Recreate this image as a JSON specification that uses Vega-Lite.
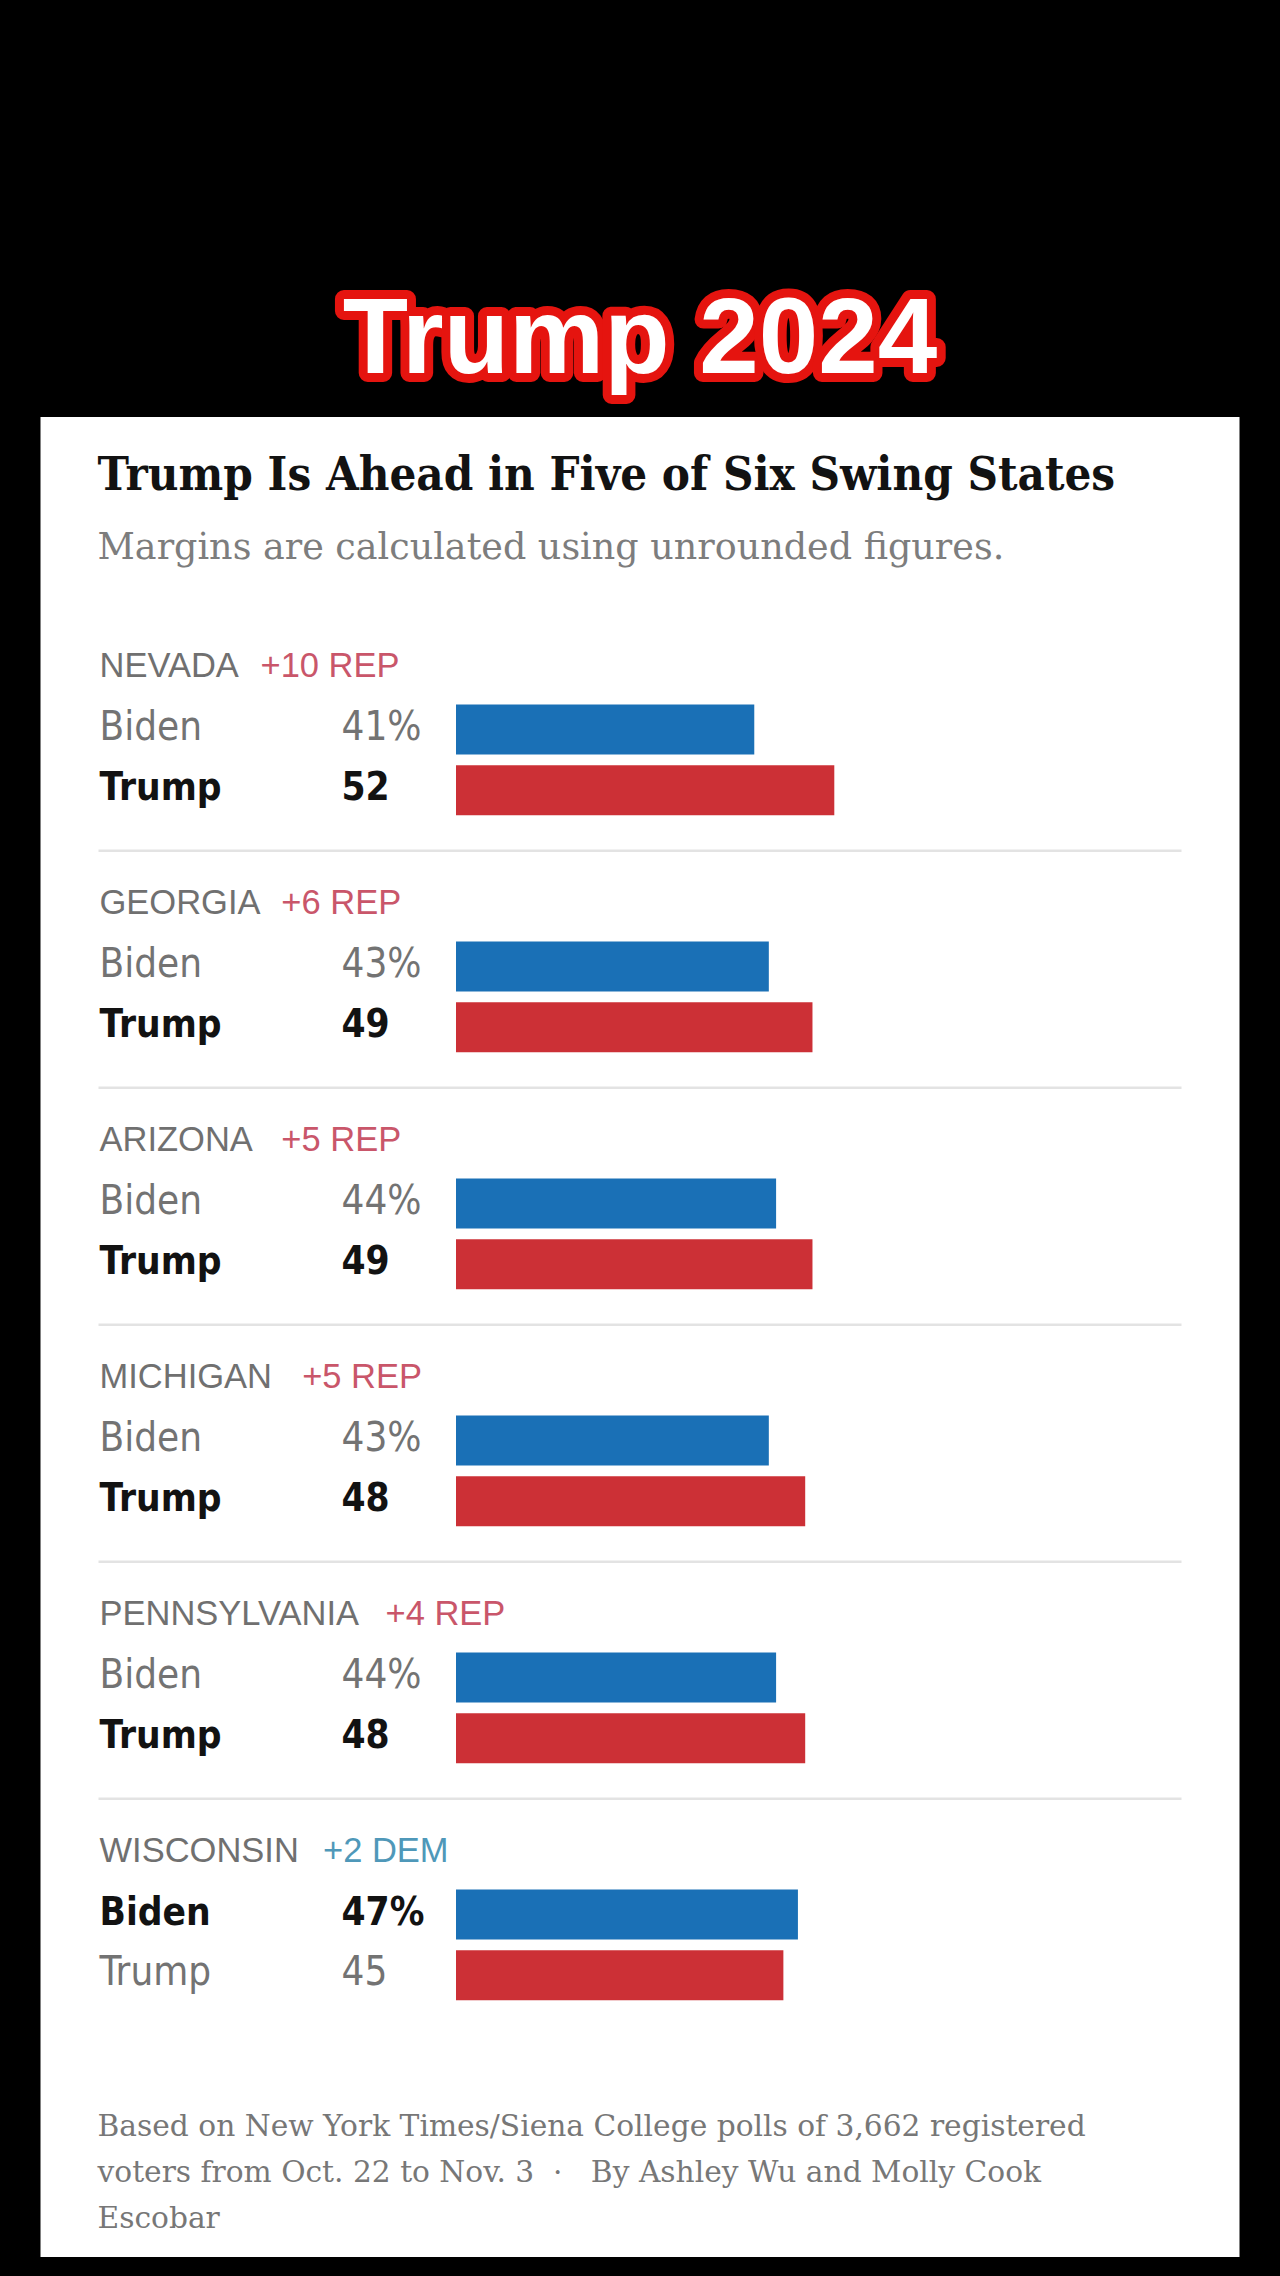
{
  "$schema": "https://vega.github.io/schema/vega-lite/v6.json",
  "background": "#000000",
  "padding": {"top": 264, "bottom": 19, "left": 0, "right": 0},
  "spacing": 0,
  "center": true,
  "config": {"view": {"stroke": null, "fill": "#ffffff"}, "concat": {"spacing": 0}, "facet": {"spacing": 0}},
  "vconcat": [
    {
      "width": 1280,
      "height": 153,
      "view": {"fill": "#000000", "stroke": null},
      "data": {"values": [{"headline": "Trump 2024"}]},
      "layer": [
        {
          "mark": {"type": "text", "font": "Liberation Sans", "fontWeight": "bold", "fontSize": 107, "align": "center", "baseline": "middle", "fill": "#e5140f", "stroke": "#e5140f", "strokeWidth": 18, "strokeJoin": "round"},
          "encoding": {"text": {"field": "headline"}}
        },
        {
          "mark": {"type": "text", "font": "Liberation Sans", "fontWeight": "bold", "fontSize": 107, "align": "center", "baseline": "middle", "fill": "#ffffff"},
          "encoding": {"text": {"field": "headline"}}
        }
      ]
    },
    {
      "width": 1199,
      "height": 198,
      "data": {"values": [
        {"kind": "title", "line": "Trump Is Ahead in Five of Six Swing States"},
        {"kind": "subtitle", "line": "Margins are calculated using unrounded figures."}
      ]},
      "layer": [
        {
          "transform": [{"filter": "datum.kind === 'title'"}],
          "mark": {"type": "text", "align": "left", "baseline": "alphabetic", "font": "DejaVu Serif Condensed, Liberation Serif", "fontWeight": "bold", "fontSize": 47, "fill": "#121212"},
          "encoding": {
            "text": {"field": "line"},
            "x": {"datum": 0, "type": "quantitative", "scale": {"domain": [0, 1], "range": [57, 1141]}, "axis": null},
            "y": {"field": "kind", "type": "nominal", "scale": {"type": "point", "domain": ["title", "subtitle"], "range": [73, 142], "padding": 0}, "axis": null}
          }
        },
        {
          "transform": [{"filter": "datum.kind === 'subtitle'"}],
          "mark": {"type": "text", "align": "left", "baseline": "alphabetic", "font": "DejaVu Serif", "fontSize": 36.5, "fill": "#7d7d7d"},
          "encoding": {
            "text": {"field": "line"},
            "x": {"datum": 0, "type": "quantitative", "scale": {"domain": [0, 1], "range": [57, 1141]}, "axis": null},
            "y": {"field": "kind", "type": "nominal", "scale": {"type": "point", "domain": ["title", "subtitle"], "range": [73, 142], "padding": 0}, "axis": null}
          }
        }
      ]
    },
    {
      "data": {"values": [
        {"state": "NEVADA", "margin": "+10 REP", "candidate": "Biden", "pct": 41},
        {"state": "NEVADA", "margin": "+10 REP", "candidate": "Trump", "pct": 52},
        {"state": "GEORGIA", "margin": "+6 REP", "candidate": "Biden", "pct": 43},
        {"state": "GEORGIA", "margin": "+6 REP", "candidate": "Trump", "pct": 49},
        {"state": "ARIZONA", "margin": "+5 REP", "candidate": "Biden", "pct": 44},
        {"state": "ARIZONA", "margin": "+5 REP", "candidate": "Trump", "pct": 49},
        {"state": "MICHIGAN", "margin": "+5 REP", "candidate": "Biden", "pct": 43},
        {"state": "MICHIGAN", "margin": "+5 REP", "candidate": "Trump", "pct": 48},
        {"state": "PENNSYLVANIA", "margin": "+4 REP", "candidate": "Biden", "pct": 44},
        {"state": "PENNSYLVANIA", "margin": "+4 REP", "candidate": "Trump", "pct": 48},
        {"state": "WISCONSIN", "margin": "+2 DEM", "candidate": "Biden", "pct": 47},
        {"state": "WISCONSIN", "margin": "+2 DEM", "candidate": "Trump", "pct": 45}
      ]},
      "transform": [
        {"joinaggregate": [{"op": "max", "field": "pct", "as": "lead"}], "groupby": ["state"]},
        {"calculate": "datum.candidate === 'Biden' ? datum.pct + '%' : '' + datum.pct", "as": "pctLabel"},
        {"calculate": "length(datum.state)", "as": "nameLength"}
      ],
      "facet": {
        "row": {"field": "state", "type": "nominal", "sort": ["NEVADA", "GEORGIA", "ARIZONA", "MICHIGAN", "PENNSYLVANIA", "WISCONSIN"], "header": {"title": null, "labels": false}}
      },
      "spacing": 0,
      "spec": {
        "width": 1199,
        "height": 237,
        "layer": [
          {
            "transform": [{"filter": "datum.candidate === 'Biden' && datum.state !== 'WISCONSIN'"}],
            "mark": {"type": "rule", "stroke": "#e3e3e3", "strokeWidth": 2.5},
            "encoding": {
              "x": {"datum": 0, "type": "quantitative", "scale": {"domain": [0, 1], "range": [58, 1141]}, "axis": null},
              "x2": {"datum": 1},
              "y": {"datum": "rule", "type": "nominal", "scale": {"type": "point", "domain": ["header", "Biden", "Trump", "rule"], "range": [54, 235.7], "padding": 0}, "axis": null}
            }
          },
          {
            "transform": [{"filter": "datum.candidate === 'Biden'"}],
            "mark": {"type": "text", "align": "left", "baseline": "alphabetic", "dy": 8, "font": "Liberation Sans", "fontSize": 34.5, "fill": "#707070"},
            "encoding": {
              "text": {"field": "state"},
              "x": {"datum": 0, "type": "quantitative", "scale": {"domain": [0, 1], "range": [59, 1141]}, "axis": null},
              "y": {"datum": "header", "type": "nominal", "scale": {"type": "point", "domain": ["header", "Biden", "Trump", "rule"], "range": [54, 235.7], "padding": 0}, "axis": null}
            }
          },
          {
            "transform": [{"filter": "datum.candidate === 'Biden'"}],
            "mark": {"type": "text", "align": "left", "baseline": "alphabetic", "dy": 8, "font": "Liberation Sans", "fontSize": 34.5},
            "encoding": {
              "text": {"field": "margin"},
              "color": {"condition": {"test": "datum.pct === datum.lead", "value": "#4f98b9"}, "value": "#c9566a"},
              "x": {"field": "nameLength", "type": "quantitative", "scale": {"domain": [6, 12], "range": [220, 345], "zero": false, "nice": false}, "axis": null},
              "y": {"datum": "header", "type": "nominal", "scale": {"type": "point", "domain": ["header", "Biden", "Trump", "rule"], "range": [54, 235.7], "padding": 0}, "axis": null}
            }
          },
          {
            "transform": [{"filter": "datum.pct !== datum.lead"}, {"fold": ["candidate", "pctLabel"], "as": ["col", "txt"]}],
            "mark": {"type": "text", "align": "left", "baseline": "alphabetic", "dy": 10, "font": "DejaVu Sans Condensed", "fontSize": 40, "fill": "#737373"},
            "encoding": {
              "text": {"field": "txt"},
              "x": {"field": "col", "type": "nominal", "scale": {"type": "point", "domain": ["candidate", "pctLabel"], "range": [59, 301], "padding": 0}, "axis": null},
              "y": {"field": "candidate", "type": "nominal", "scale": {"type": "point", "domain": ["header", "Biden", "Trump", "rule"], "range": [54, 235.7], "padding": 0}, "axis": null}
            }
          },
          {
            "transform": [{"filter": "datum.pct === datum.lead"}, {"fold": ["candidate", "pctLabel"], "as": ["col", "txt"]}],
            "mark": {"type": "text", "align": "left", "baseline": "alphabetic", "dy": 10, "font": "DejaVu Sans Condensed", "fontWeight": "bold", "fontSize": 38.5, "fill": "#121212"},
            "encoding": {
              "text": {"field": "txt"},
              "x": {"field": "col", "type": "nominal", "scale": {"type": "point", "domain": ["candidate", "pctLabel"], "range": [59, 301], "padding": 0}, "axis": null},
              "y": {"field": "candidate", "type": "nominal", "scale": {"type": "point", "domain": ["header", "Biden", "Trump", "rule"], "range": [54, 235.7], "padding": 0}, "axis": null}
            }
          },
          {
            "mark": {"type": "bar", "height": 50},
            "encoding": {
              "x": {"field": "pct", "type": "quantitative", "scale": {"domain": [0, 100], "range": [415.5, 1143]}, "axis": null},
              "y": {"field": "candidate", "type": "nominal", "scale": {"type": "point", "domain": ["header", "Biden", "Trump", "rule"], "range": [54, 235.7], "padding": 0}, "axis": null},
              "color": {"field": "candidate", "type": "nominal", "scale": {"domain": ["Biden", "Trump"], "range": ["#1a70b6", "#cc3036"]}, "legend": null}
            }
          }
        ],
        "resolve": {"scale": {"x": "independent"}}
      }
    },
    {
      "width": 1199,
      "height": 220,
      "data": {"values": [
        {"note": "Based on New York Times/Siena College polls of 3,662 registered\nvoters from Oct. 22 to Nov. 3\u00a0\u00a0·\u00a0\u00a0\u00a0By Ashley Wu and Molly Cook\nEscobar"}
      ]},
      "mark": {"type": "text", "align": "left", "baseline": "alphabetic", "lineBreak": "\n", "lineHeight": 46, "font": "DejaVu Serif", "fontSize": 29.7, "fill": "#777777"},
      "encoding": {
        "text": {"field": "note"},
        "x": {"datum": 0, "type": "quantitative", "scale": {"domain": [0, 1], "range": [57, 1141]}, "axis": null},
        "y": {"datum": 0, "type": "quantitative", "scale": {"domain": [0, 1], "range": [99, 220]}, "axis": null}
      }
    }
  ]
}
